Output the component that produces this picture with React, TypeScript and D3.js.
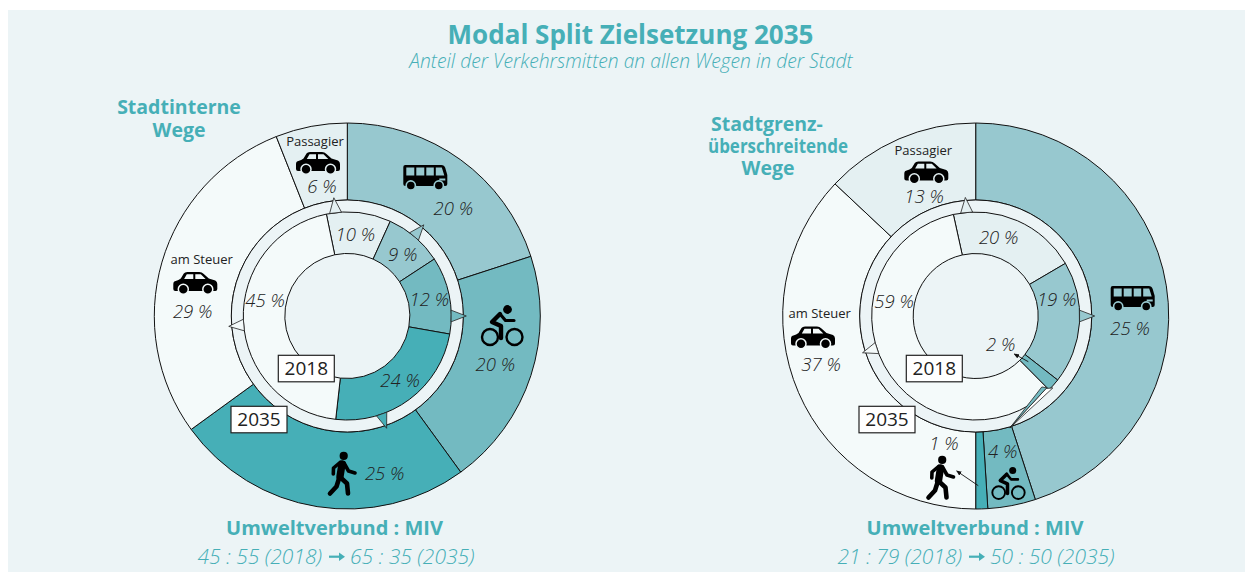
import React from "react";
import * as d3 from "d3";

// ---------- data ----------
const modes = ["Passagier", "Bus", "Rad", "Fuss", "Steuer"];
const leftInner2018 = [10, 9, 12, 24, 45];
const leftOuterModes = ["Bus", "Rad", "Fuss", "Steuer", "Passagier"];
const leftOuter2035 = [20, 20, 25, 29, 6];
const rightInnerModes = ["Passagier", "Bus", "Rad", "Steuer"];
const rightInner2018 = [20, 19, 2, 59];
const rightOuterModes = ["Bus", "Rad", "Fuss", "Steuer", "Passagier"];
const rightOuter2035 = [45, 4, 1, 37, 13];

const colorOf: Record<string, string> = {
  Bus: "#97c8cf",
  Rad: "#73bac1",
  Fuss: "#46afb7",
  Passagier: "#e4f0f2",
  Steuer: "#f4fafa",
};
const BG = "#ecf4f6";
const TEAL = "#46afb7";
const INK = "#222";
const FONT = "'Open Sans','Noto Sans',sans-serif";

const R = { outer: 193, ring: 116, inner: 104, hole: 62.5 };
const rad = d3.scaleLinear().domain([0, 360]).range([0, 2 * Math.PI]);

function polar(cx: number, cy: number, deg: number, r: number): [number, number] {
  const a = rad(deg);
  return [cx + r * Math.sin(a), cy - r * Math.cos(a)];
}

function Donut({ cx, cy, keys, values, start, r0, r1 }: any) {
  const pie = d3.pie<number>().sort(null).startAngle(rad(start)).endAngle(rad(start + 360));
  const arc = d3.arc<d3.PieArcDatum<number>>().innerRadius(r0).outerRadius(r1);
  return (
    <g transform={`translate(${cx},${cy})`}>
      {pie(values).map((d, i) => (
        <path key={i} d={arc(d) || ""} fill={colorOf[keys[i]]} stroke="#111" strokeWidth={1} strokeLinejoin="round" />
      ))}
    </g>
  );
}

// marker: a thin triangle from the 2018 ring towards the 2035 ring, given in polar terms
function Marker({ cx, cy, mode, tip, halfWidth, fill }: any) {
  const p = [polar(cx, cy, tip, R.ring + 3), polar(cx, cy, tip - halfWidth, R.inner), polar(cx, cy, tip + halfWidth, R.inner)];
  return <polygon points={p.map((q) => q.join(",")).join(" ")} fill={fill ?? colorOf[mode]} stroke="#222" strokeWidth={0.8} strokeLinejoin="round" />;
}

function Txt({ x, y, size, bold, italic, fill = INK, anchor = "middle", light, fit, children }: any) {
  return (
    <text x={x} y={y} fontFamily={FONT} fontSize={size} fontWeight={bold ? 700 : light ? 300 : 400} fontStyle={italic ? "italic" : "normal"} fill={fill} textAnchor={anchor} {...(fit ? { textLength: fit, lengthAdjust: "spacingAndGlyphs" } : {})}>
      {children}
    </text>
  );
}

function Car({ x, y, s = 1, bg }: any) {
  return (
    <g transform={`translate(${x},${y}) scale(${s})`}>
      <path d="M1,9.5 Q6,8 7.5,6.5 L10.5,1.5 Q11.5,0 14,0 L26,0 Q28.5,0 30.5,2 L35.5,6.5 L42,8.5 Q44,9.5 44,12 L44,17 Q44,19 42,19 L2,19 Q0,19 0,17 L0,12 Q0,10 1,9.5 Z" fill="#000" />
      <path d="M13.5,2.2 L20,2.2 L20,7 L10.8,7 Z M22,2.2 L27.5,2.2 L32.3,7 L22,7 Z" fill={bg} />
      <circle cx={10} cy={17.2} r={5} fill="#000" stroke={bg} strokeWidth={1.5} />
      <circle cx={34.5} cy={17.2} r={5} fill="#000" stroke={bg} strokeWidth={1.5} />
    </g>
  );
}

function Bus({ x, y, bg }: any) {
  return (
    <g transform={`translate(${x},${y})`}>
      <path d="M2,0 L38,0 Q41,0 42,3 L44,10 L44,19 Q44,21 42,21 L2,21 Q0,21 0,19 L0,2 Q0,0 2,0 Z" fill="#000" />
      <path d="M3,2.5 H11 V10.5 H3 Z M13,2.5 H21 V10.5 H13 Z M23,2.5 H30.5 V10.5 H23 Z M32.5,2.5 H38.5 L41,10.5 H32.5 Z" fill={bg} />
      <rect x={36} y={13.5} width={6} height={2} fill={bg} />
      <circle cx={7.5} cy={20.5} r={4.6} fill="#000" stroke={bg} strokeWidth={1.6} />
      <circle cx={35.5} cy={20.5} r={4.6} fill="#000" stroke={bg} strokeWidth={1.6} />
    </g>
  );
}

function Bike({ x, y, s = 1 }: any) {
  return (
    <g transform={`translate(${x},${y}) scale(${s})`} fill="none" stroke="#000" strokeLinecap="round" strokeLinejoin="round">
      <circle cx={9} cy={32} r={8} strokeWidth={2.4} />
      <circle cx={33.5} cy={32} r={8} strokeWidth={2.4} />
      <circle cx={26.5} cy={4.5} r={4.4} fill="#000" stroke="none" />
      <path d="M19,9 L11,17 L20,21 L20,33" strokeWidth={4.4} />
      <path d="M19,9 L24.5,15.5 L33,15.5" strokeWidth={3.2} />
    </g>
  );
}

function Walker({ x, y }: any) {
  return (
    <g transform={`translate(${x},${y})`} fill="none" stroke="#000" strokeLinecap="round" strokeLinejoin="round">
      <circle cx={15.7} cy={3.9} r={4.1} fill="#000" stroke="none" />
      <path d="M14,12 L12,24.5" strokeWidth={7.4} />
      <path d="M12,10.5 L5.5,16 L5.3,22" strokeWidth={3.6} />
      <path d="M16,11 L20.5,19 L27,21" strokeWidth={3.6} />
      <path d="M11.5,25 L8.5,34.5 L2,41.5" strokeWidth={4.6} />
      <path d="M12,25 L19,31.5 L20,41.5" strokeWidth={4.6} />
    </g>
  );
}

function YearBox({ x, y, label }: any) {
  return (
    <g>
      <rect x={x} y={y} width={56} height={26.5} fill="#fff" stroke="#222" strokeWidth={1.2} />
      <Txt x={x + 28} y={y + 20} size={19}>{label}</Txt>
    </g>
  );
}

function Ratio({ cx, first, second }: any) {
  return (
    <g>
      <Txt x={cx - 15} y={564} size={21} italic fill={TEAL} anchor="end" light>{first}</Txt>
      <path d={`M${cx - 8},556.7 H${cx + 3}`} stroke={TEAL} strokeWidth={2.2} />
      <path d={`M${cx + 2},552.5 L${cx + 8},556.7 L${cx + 2},560.9 Z`} fill={TEAL} />
      <Txt x={cx + 13} y={564} size={21} italic fill={TEAL} anchor="start" light>{second}</Txt>
    </g>
  );
}

export default function App() {
  const L = { x: 347.3, y: 316 };
  const Q = { x: 975.7, y: 316 };
  const pct = (v: number) => `${v} %`;
  const lab = (x: number, y: number, v: number) => <Txt x={x} y={y} size={18.5} italic light>{pct(v)}</Txt>;
  return (
    <svg width={1245} height={572} viewBox="0 0 1245 572" style={{ position: "absolute", left: 0, top: 0, display: "block" }}>
      <defs>
        <marker id="ah" viewBox="0 0 8 8" refX={7} refY={4} markerWidth={6} markerHeight={6} orient="auto-start-reverse">
          <path d="M0,0.5 L8,4 L0,7.5 Z" fill="#111" />
        </marker>
      </defs>
      <rect x={8} y={10} width={1237} height={562} fill={BG} />

      <Txt x={630.5} y={44} size={26} bold fill={TEAL}>Modal Split Zielsetzung 2035</Txt>
      <Txt x={631} y={68} size={19.3} italic fill={TEAL} light>Anteil der Verkehrsmitten an allen Wegen in der Stadt</Txt>

      <Txt x={179} y={114} size={19.5} bold fill={TEAL}>Stadtinterne</Txt>
      <Txt x={179} y={137} size={19.5} bold fill={TEAL}>Wege</Txt>
      <Txt x={767} y={131} size={19.5} bold fill={TEAL}>Stadtgrenz-</Txt>
      <Txt x={778} y={153} size={19.5} bold fill={TEAL} fit={140}>überschreitende</Txt>
      <Txt x={768} y={175} size={19.5} bold fill={TEAL}>Wege</Txt>

      {/* left */}
      <Donut cx={L.x} cy={L.y} keys={leftOuterModes} values={leftOuter2035} start={0} r0={R.ring} r1={R.outer} />
      <circle cx={L.x} cy={L.y} r={R.ring} fill={BG} stroke="#111" />
      <Donut cx={L.x} cy={L.y} keys={modes} values={leftInner2018} start={-11.6} r0={R.hole} r1={R.inner} />
      <Marker cx={L.x} cy={L.y} mode="Passagier" tip={-6.5} halfWidth={3.3} />
      <Marker cx={L.x} cy={L.y} mode="Bus" tip={40} halfWidth={3.2} />
      <Marker cx={L.x} cy={L.y} mode="Rad" tip={90} halfWidth={3.2} />
      <Marker cx={L.x} cy={L.y} mode="Fuss" tip={160.7} halfWidth={3} />
      <Marker cx={L.x} cy={L.y} mode="Steuer" tip={265} halfWidth={3.2} />

      <Txt x={315} y={146} size={13}>Passagier</Txt>
      <Car x={296} y={152} bg={colorOf.Passagier} />
      {lab(322, 192.7, leftOuter2035[4])}
      <Bus x={403.3} y={165} bg={colorOf.Bus} />
      {lab(453.3, 215, leftOuter2035[0])}
      <Bike x={481} y={305} />
      {lab(495.3, 370.7, leftOuter2035[1])}
      <Walker x={328} y={452} />
      {lab(384.7, 480, leftOuter2035[2])}
      <Txt x={201.7} y={264} size={13}>am Steuer</Txt>
      <Car x={173.3} y={272} bg={colorOf.Steuer} />
      {lab(192.7, 318.3, leftOuter2035[3])}

      {lab(355.3, 240.7, leftInner2018[0])}
      {lab(402.7, 260.7, leftInner2018[1])}
      {lab(429.3, 306, leftInner2018[2])}
      {lab(400, 386.7, leftInner2018[3])}
      {lab(265, 306.7, leftInner2018[4])}
      <YearBox x={278.3} y={355.3} label="2018" />
      <YearBox x={231} y={406.3} label="2035" />

      {/* right */}
      <Donut cx={Q.x} cy={Q.y} keys={rightOuterModes} values={rightOuter2035} start={0} r0={R.ring} r1={R.outer} />
      <circle cx={Q.x} cy={Q.y} r={R.ring} fill={BG} stroke="#111" />
      <Donut cx={Q.x} cy={Q.y} keys={rightInnerModes} values={rightInner2018} start={-12.4} r0={R.hole} r1={R.inner} />
      <Marker cx={Q.x} cy={Q.y} mode="Passagier" tip={-5} halfWidth={3.3} />
      <Marker cx={Q.x} cy={Q.y} mode="Bus" tip={90} halfWidth={3.2} />
      <Marker cx={Q.x} cy={Q.y} mode="Steuer" tip={252} halfWidth={3.2} />
      <polygon points={[polar(Q.x, Q.y, 163, 117), polar(Q.x, Q.y, 135.8, 101), polar(Q.x, Q.y, 133, 105.5)].map((q) => q.join(",")).join(" ")} fill="#fff" stroke="#222" strokeWidth={0.8} />
      <polygon points={[polar(Q.x, Q.y, 163, 117), polar(Q.x, Q.y, 137, 97), polar(Q.x, Q.y, 135.3, 101)].map((q) => q.join(",")).join(" ")} fill={colorOf.Rad} stroke="#222" strokeWidth={0.8} />

      <Txt x={923.3} y={155} size={13}>Passagier</Txt>
      <Car x={904.3} y={161.5} bg={colorOf.Passagier} />
      {lab(924, 202.7, rightOuter2035[4])}
      <Bus x={1110.7} y={286} bg={colorOf.Bus} />
      <Txt x={1130} y={335} size={18.5} italic light>25 %</Txt>
      <Txt x={819.7} y={318} size={13}>am Steuer</Txt>
      <Car x={791} y={326.5} bg={colorOf.Steuer} />
      {lab(821, 370.7, rightOuter2035[3])}
      {lab(944, 450, rightOuter2035[2])}
      {lab(1002.7, 457.7, rightOuter2035[1])}
      <Walker x={926.5} y={456} />
      <Bike x={991.5} y={467} s={0.8} />

      {lab(998.7, 244, rightInner2018[0])}
      {lab(1056.7, 306, rightInner2018[1])}
      {lab(1000.7, 350.7, rightInner2018[2])}
      {lab(894, 307.7, rightInner2018[3])}
      <line x1={1028.3} y1={361.7} x2={1014.3} y2={354} stroke="#111" strokeWidth={0.9} markerEnd="url(#ah)" />
      <line x1={978.3} y1={485.7} x2={956.7} y2={471} stroke="#111" strokeWidth={0.9} markerEnd="url(#ah)" />
      <YearBox x={906.3} y={355.3} label="2018" />
      <YearBox x={859} y={406.3} label="2035" />

      {/* bottom */}
      <Txt x={334.5} y={535} size={20} bold fill={TEAL}>Umweltverbund : MIV</Txt>
      <Ratio cx={337} first="45 : 55 (2018)" second="65 : 35 (2035)" />
      <Txt x={975} y={535} size={20} bold fill={TEAL}>Umweltverbund : MIV</Txt>
      <Ratio cx={977} first="21 : 79 (2018)" second="50 : 50 (2035)" />
    </svg>
  );
}
